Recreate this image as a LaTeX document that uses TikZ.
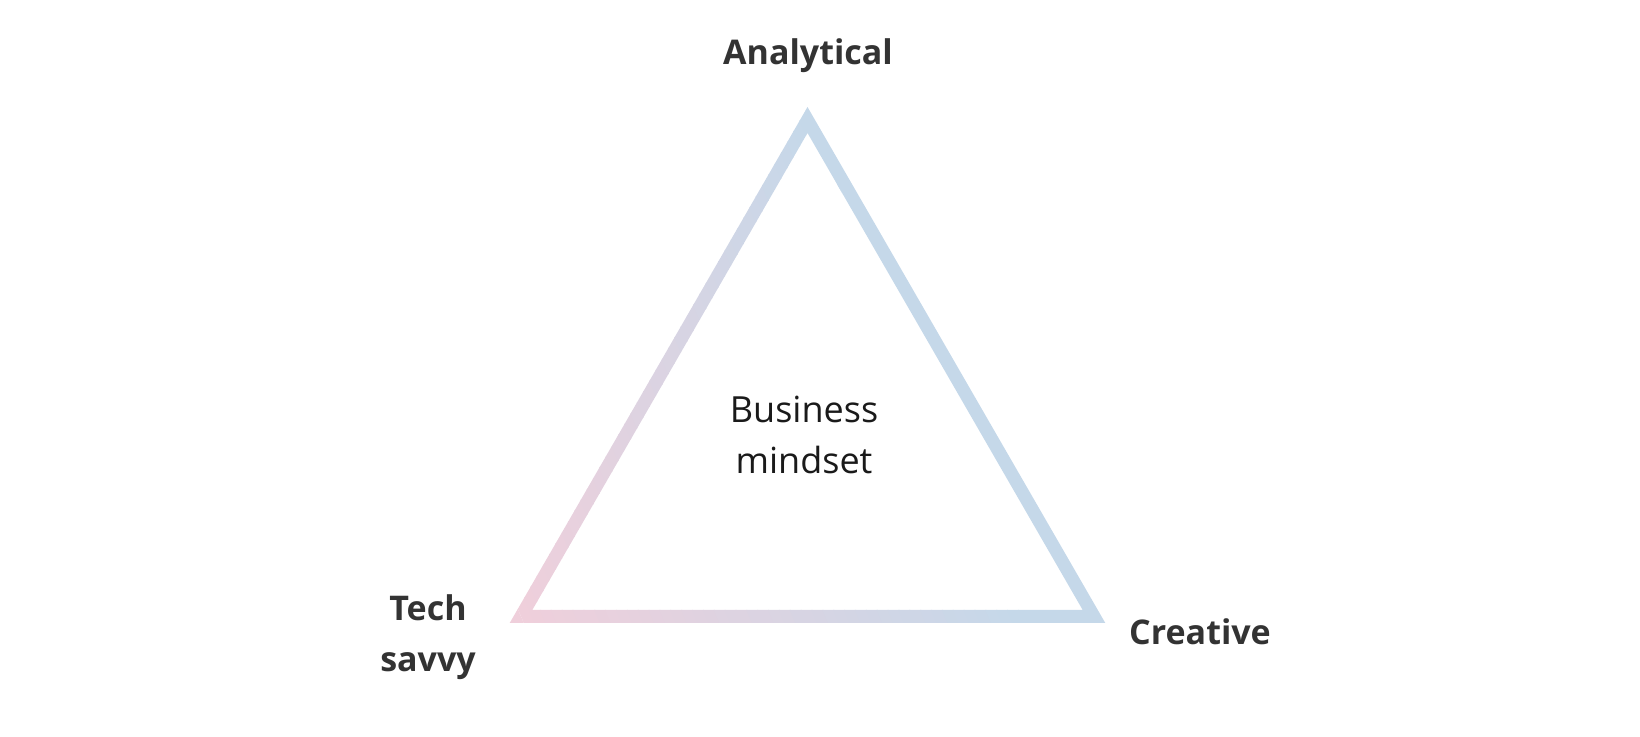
\documentclass[tikz,border=0pt]{standalone}
\usepackage{fontspec}
\setmainfont{Open Sans}
\definecolor{pk}{HTML}{EFCFDB}
\definecolor{bl}{HTML}{C5D8E9}
\definecolor{lbl}{HTML}{333333}
\definecolor{ctr}{HTML}{1A1A1A}
\begin{document}
\begin{tikzpicture}[x=1pt,y=1pt,
  lab/.style={font=\fontsize{34}{52}\selectfont\bfseries, text=lbl, align=center, inner sep=0pt},
  mid/.style={font=\fontsize{36}{51}\selectfont, text=ctr, align=center, inner sep=0pt}]
\useasboundingbox (0,0) rectangle (1640,736);
\coordinate (A) at (807.5,616);
\coordinate (T) at (521,119.5);
\coordinate (C) at (1094,119.5);
\begin{scope}[even odd rule]
\clip (509.7,113) -- (1105.3,113) -- (807.5,629) -- cycle
  (532.3,126) -- (1082.7,126) -- (807.5,603) -- cycle;
\begin{scope}[shift={(T)}, rotate=23]
\fill[pk] (-900,-900) rectangle (0,900);
\fill[bl] (460,-900) rectangle (1500,900);
\foreach \i in {0,...,45} {
  \pgfmathtruncatemacro\p{round(\i*100/45)}
  \fill[bl!\p!pk] (\i*10,-900) rectangle (\i*10+11,900);
}
\end{scope}
\end{scope}
\node[lab, anchor=base] (ana) at (808,671) {Analytical};
\node[lab, anchor=base] (cre) at (1200,91) {Creative};
\node[lab, anchor=base] (tech) at (428,64) {Tech\\savvy};
\node[mid, anchor=base] (bm) at (804,262) {Business\\mindset};
\end{tikzpicture}
\end{document}
